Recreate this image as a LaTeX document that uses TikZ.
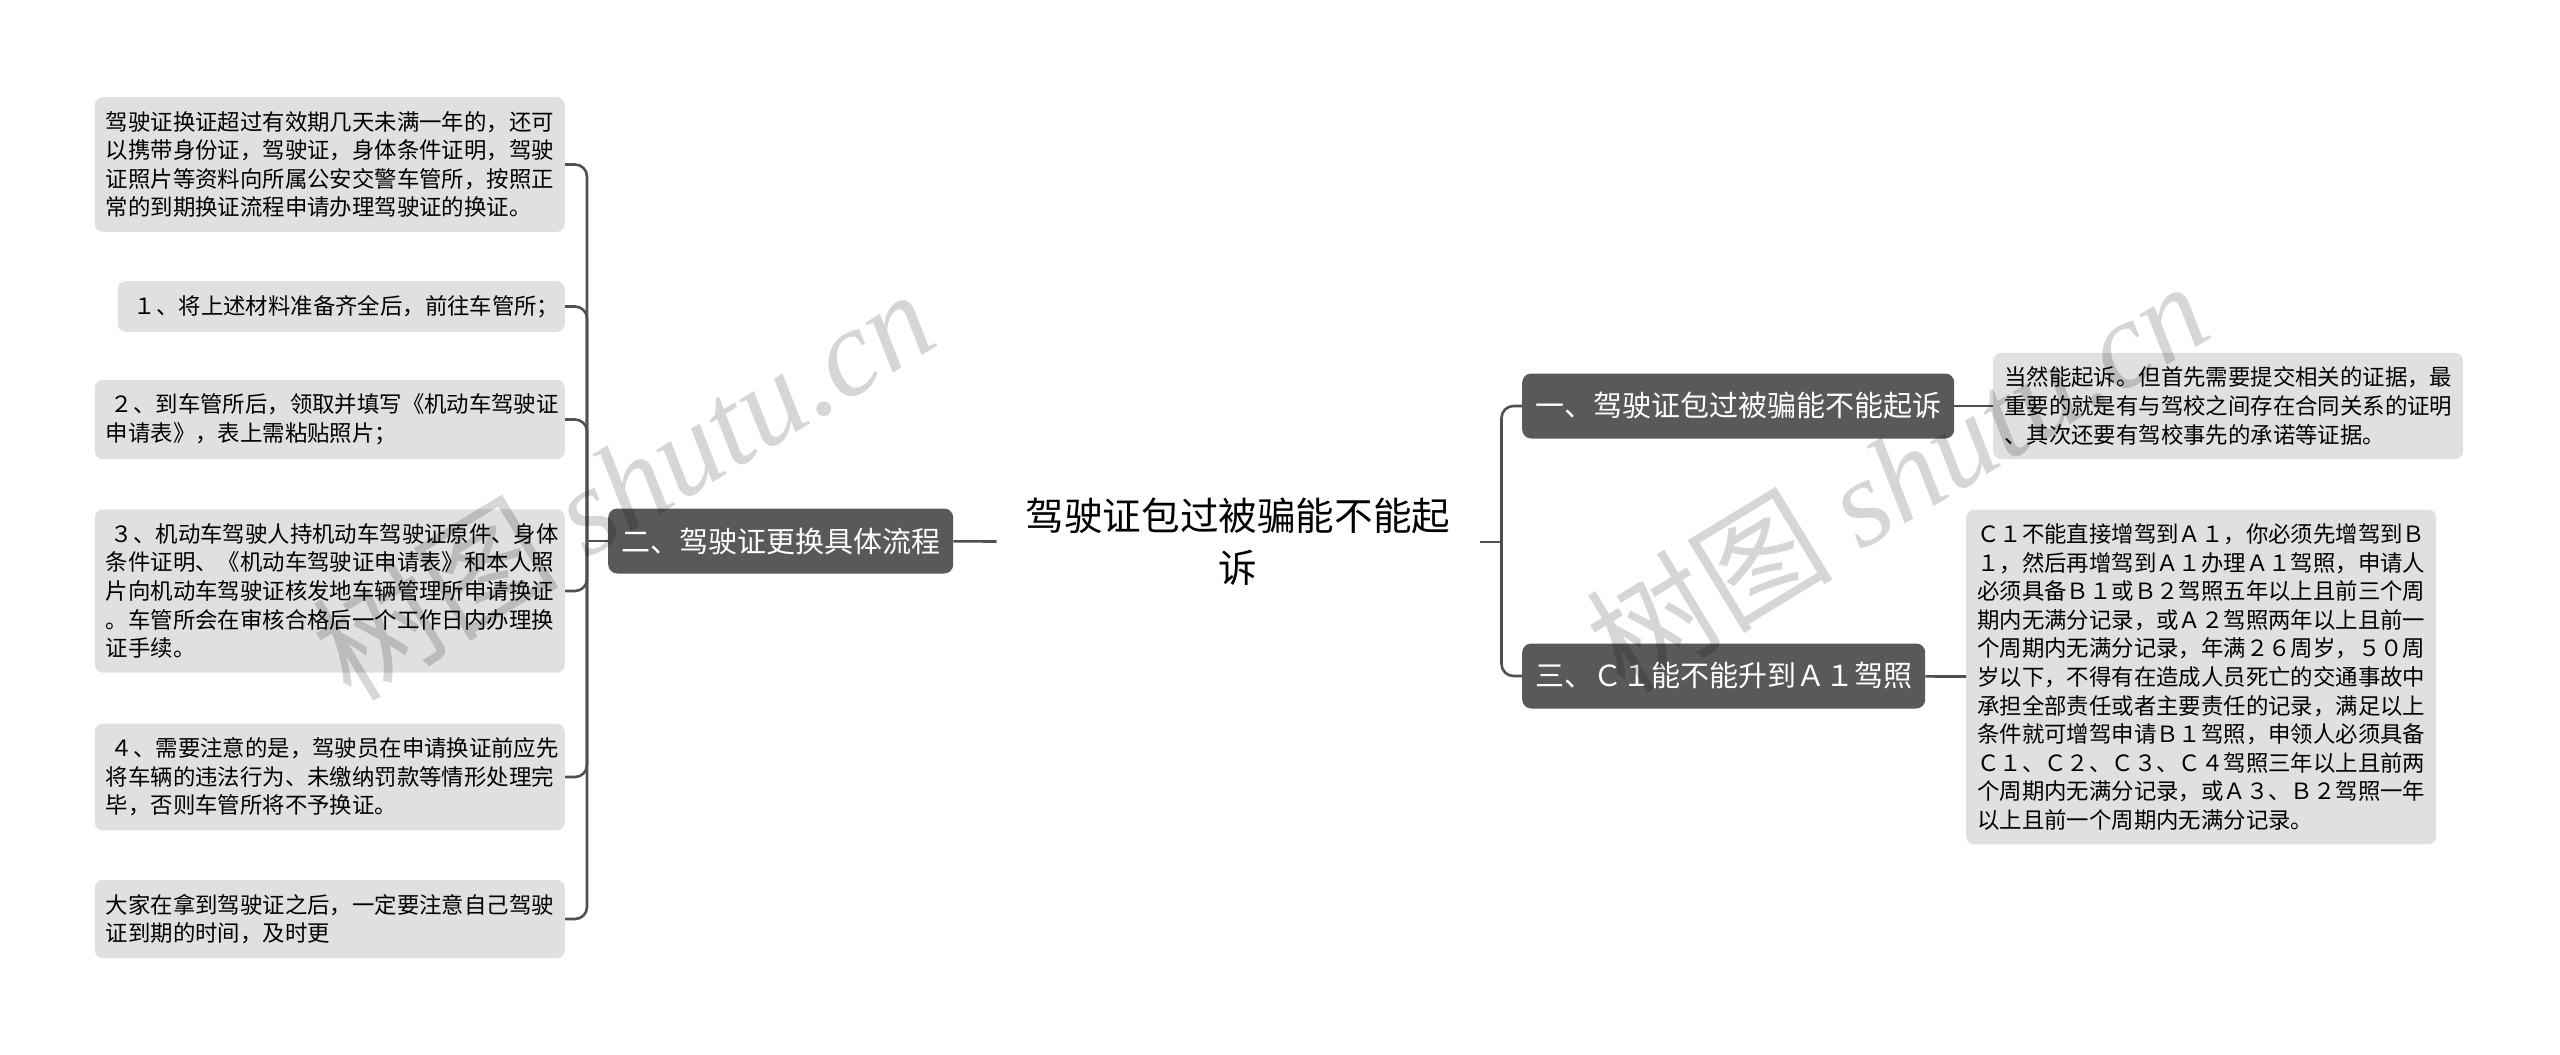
\documentclass[tikz,border=0pt]{standalone}
\usepackage{fontspec}
\setmainfont{Noto Sans CJK SC}
\newfontfamily\wmserif{Liberation Serif}
\usetikzlibrary{positioning}
\definecolor{leafgray}{HTML}{E0E0E0}
\definecolor{branchgray}{HTML}{595959}
\definecolor{wiregray}{HTML}{505050}
\tikzset{
  leaf/.style={fill=leafgray,rounded corners=8pt,align=left,text width=448pt,
    inner xsep=11pt,inner ysep=14pt,font=\fontsize{22.4}{28.6}\selectfont},
  branch/.style={fill=branchgray,text=white,rounded corners=9pt,inner xsep=13pt,
    minimum height=65pt,font=\fontsize{29}{34}\selectfont},
  link/.style={draw=wiregray,line width=2.6pt,rounded corners=12pt},
  wmark/.style={text=black,opacity=.16,rotate=31.3,anchor=base west,
    font=\fontsize{124}{124}\selectfont}
}

\begin{document}
\begin{tikzpicture}[x=1pt,y=-1pt]
\useasboundingbox (0,0) rectangle (2560,1055);

\node[align=center,inner xsep=29pt,font=\fontsize{38.6}{52}\selectfont] (title) at (1238,542)
  {驾驶证包过被骗能不能起\\诉};

\node[branch,anchor=west] (flow) at (608,541) {二、驾驶证更换具体流程};
\node[branch,anchor=west] (sue) at (1522,406) {一、驾驶证包过被骗能不能起诉};
\node[branch,anchor=west] (upgrade) at (1522,676) {三、Ｃ１能不能升到Ａ１驾照};

\node[leaf,anchor=east] (renew) at (565,164.5)
  {驾驶证换证超过有效期几天未满一年的，还可\\
   以携带身份证，驾驶证，身体条件证明，驾驶\\
   证照片等资料向所属公安交警车管所，按照正\\
   常的到期换证流程申请办理驾驶证的换证。};
\node[leaf,anchor=east,text width=425pt] (stepa) at (565,306.5)
  {\hspace*{5pt}１、将上述材料准备齐全后，前往车管所；};
\node[leaf,anchor=east] (stepb) at (565,419.5)
  {\hspace*{5pt}２、到车管所后，领取并填写《机动车驾驶证\\
   申请表》，表上需粘贴照片；};
\node[leaf,anchor=east] (stepc) at (565,591)
  {\hspace*{5pt}３、机动车驾驶人持机动车驾驶证原件、身体\\
   条件证明、《机动车驾驶证申请表》和本人照\\
   片向机动车驾驶证核发地车辆管理所申请换证\\
   。车管所会在审核合格后一个工作日内办理换\\
   证手续。};
\node[leaf,anchor=east] (stepd) at (565,777)
  {\hspace*{5pt}４、需要注意的是，驾驶员在申请换证前应先\\
   将车辆的违法行为、未缴纳罚款等情形处理完\\
   毕，否则车管所将不予换证。};
\node[leaf,anchor=east] (expiry) at (565,919)
  {大家在拿到驾驶证之后，一定要注意自己驾驶\\
   证到期的时间，及时更};

\node[leaf,anchor=west] (sueans) at (1993,406)
  {当然能起诉。但首先需要提交相关的证据，最\\
   重要的就是有与驾校之间存在合同关系的证明\\
   、其次还要有驾校事先的承诺等证据。};
\node[leaf,anchor=west] (upans) at (1966,677)
  {Ｃ１不能直接增驾到Ａ１，你必须先增驾到Ｂ\\
   １，然后再增驾到Ａ１办理Ａ１驾照，申请人\\
   必须具备Ｂ１或Ｂ２驾照五年以上且前三个周\\
   期内无满分记录，或Ａ２驾照两年以上且前一\\
   个周期内无满分记录，年满２６周岁，５０周\\
   岁以下，不得有在造成人员死亡的交通事故中\\
   承担全部责任或者主要责任的记录，满足以上\\
   条件就可增驾申请Ｂ１驾照，申领人必须具备\\
   Ｃ１、Ｃ２、Ｃ３、Ｃ４驾照三年以上且前两\\
   个周期内无满分记录，或Ａ３、Ｂ２驾照一年\\
   以上且前一个周期内无满分记录。};

\coordinate[left=21pt of flow] (lj);
\coordinate[right=22pt of title] (rj);

\draw[link] (title) -- (flow);
\draw[link] (flow) -- (lj);
\foreach \leafname in {renew,stepa,stepb,stepc,stepd,expiry}
  \draw[link] (lj) |- (\leafname.east);
\draw[link] (title.east) -- (rj);
\draw[link] (rj) |- (sue.west);
\draw[link] (rj) |- (upgrade.west);
\draw[link] (sue) -- (sueans);
\draw[link] (upgrade) -- (upans);

\node[wmark] (wmleft) at (348,705) {树图 {\wmserif\itshape shutu.cn}};
\node[wmark] (wmright) at (1622,697) {树图 {\wmserif\itshape shutu.cn}};
\end{tikzpicture}
\end{document}
